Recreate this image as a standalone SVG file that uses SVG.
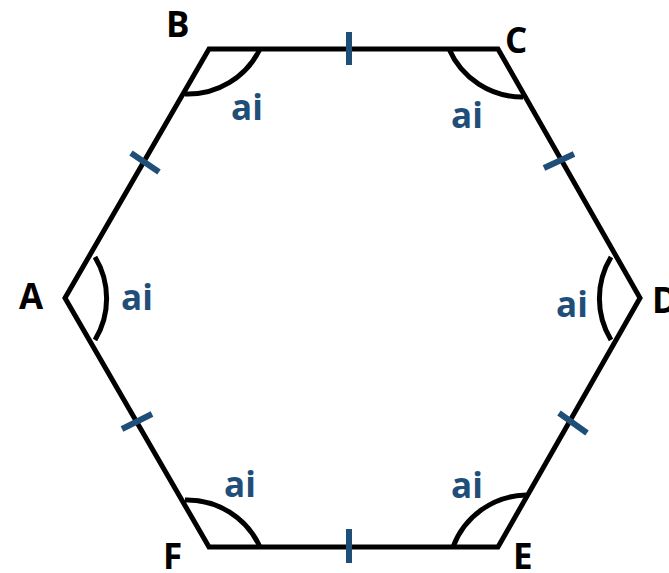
<svg xmlns="http://www.w3.org/2000/svg" width="669" height="573" viewBox="0 0 669 573">
<style>
.edge{fill:none;stroke:#000;stroke-width:5;stroke-linejoin:miter}
.arc{fill:none;stroke:#000;stroke-width:5}
.tick{stroke:#1f4e79;stroke-width:6;stroke-linecap:butt}
.lbl{font-family:"Open Sans","Liberation Sans",sans-serif;font-weight:bold;font-size:35px;fill:#000}
.ai{font-family:"Open Sans","Liberation Sans",sans-serif;font-weight:bold;font-size:35px;fill:#1f4e79}
</style>
<rect width="669" height="573" fill="#fff"/>
<g id="connectors">
<polygon class="edge" points="209,49 498,49 640,298 498,547 209,547 65,298"/>
<line class="tick" x1="131" y1="153" x2="159" y2="172"/>
<line class="tick" x1="349" y1="32" x2="349" y2="65"/>
<line class="tick" x1="544" y1="168" x2="574" y2="154"/>
<line class="tick" x1="559" y1="413" x2="587" y2="433"/>
<line class="tick" x1="349" y1="529" x2="349" y2="563"/>
<line class="tick" x1="122" y1="429" x2="152" y2="414"/>
</g>
<g id="A">
<path class="arc" d="M95,257 A80,80 0 0 1 95,340"/>
<text class="lbl" x="19" y="309">A</text>
<text class="ai" x="121" y="310">ai</text>
</g>
<g id="B">
<path class="arc" d="M260,49 A80,80 0 0 1 185,94"/>
<text class="lbl" x="166" y="37">B</text>
<text class="ai" x="231" y="120">ai</text>
</g>
<g id="C">
<path class="arc" d="M449,49 A80,80 0 0 0 523,97"/>
<text class="lbl" x="505" y="53">C</text>
<text class="ai" x="451" y="128">ai</text>
</g>
<g id="D">
<path class="arc" d="M611,257 A80,80 0 0 0 611,340"/>
<text class="lbl" x="652" y="313">D</text>
<text class="ai" x="556" y="317">ai</text>
</g>
<g id="E">
<path class="arc" d="M453,547 A80,80 0 0 1 526,495"/>
<text class="lbl" x="513" y="569">E</text>
<text class="ai" x="451" y="498">ai</text>
</g>
<g id="F">
<path class="arc" d="M185,500 A80,80 0 0 1 260,547"/>
<text class="lbl" x="163" y="569">F</text>
<text class="ai" x="224" y="497">ai</text>
</g>
</svg>
